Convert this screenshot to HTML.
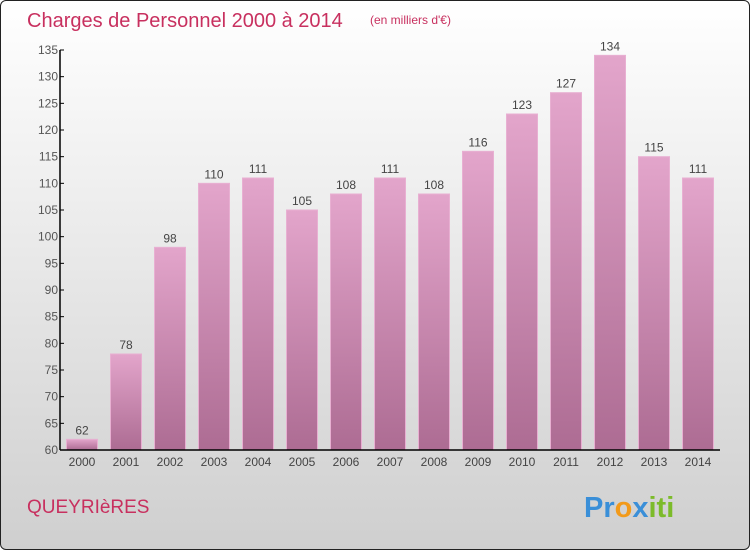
<!DOCTYPE html>
<html><head><meta charset="utf-8"><style>
body{margin:0;width:750px;height:550px;overflow:hidden;font-family:"Liberation Sans",sans-serif}
#bg{position:absolute;left:0;top:0;width:748px;height:548px;border:1px solid #222;border-radius:6px;background:linear-gradient(#ffffff,#cfcfcf)}
</style></head><body>
<div id="bg"></div>
<svg width="750" height="550" style="position:absolute;left:0;top:0">
<defs><linearGradient id="bar" x1="0" y1="0" x2="0" y2="1"><stop offset="0" stop-color="#e3a5cb"/><stop offset="1" stop-color="#ad6c93"/></linearGradient></defs>
<text x="27" y="27" font-size="20" fill="#c8305f">Charges de Personnel 2000 à 2014</text>
<text x="370" y="24" font-size="12" fill="#c8305f">(en milliers d'€)</text>
<text x="27" y="513" font-size="19" fill="#c8305f">QUEYRIèRES</text>
<text x="584" y="517" font-size="29" font-weight="bold"><tspan fill="#3a8fd8">Pr</tspan><tspan fill="#f29a1a">o</tspan><tspan fill="#3a8fd8">x</tspan><tspan fill="#7cbb2a">iti</tspan></text>
<g id="plot"></g>
</svg>
<script>
const years=["2000","2001","2002","2003","2004","2005","2006","2007","2008","2009","2010","2011","2012","2013","2014"];
const values=[62,78,98,110,111,105,108,111,108,116,123,127,134,115,111];
const yTicks=[60,65,70,75,80,85,90,95,100,105,110,115,120,125,130,135];
const ns="http://www.w3.org/2000/svg",g=document.getElementById('plot');
const y=v=>450-(v-60)*400/75, x=i=>82+i*44;
function el(t,a,txt){const e=document.createElementNS(ns,t);for(const k in a)e.setAttribute(k,a[k]);if(txt!=null)e.textContent=txt;g.appendChild(e);return e;}
yTicks.forEach(v=>{
 const t=el('line',{x1:60,x2:64,y1:y(v),y2:y(v),stroke:'#000'});
 
 const l=el('text',{x:58,y:y(v)+4,'font-size':12,fill:'#555','text-anchor':'end'},v);
 
});
values.forEach((v,i)=>{
 const r=el('rect',{x:x(i)-15.5,y:y(v),width:31,height:450-y(v),fill:'url(#bar)',stroke:'#e8b0d2','stroke-width':1});
 
 const t=el('text',{x:x(i),y:y(v)-5,'font-size':12,fill:'#444','text-anchor':'middle'},v);
 
 const l=el('text',{x:x(i),y:466,'font-size':12,fill:'#444','text-anchor':'middle'},years[i]);
 
});
const ya=el('line',{x1:60,x2:60,y1:y(135),y2:450,stroke:'#000','stroke-width':1.5});

const xa=el('line',{x1:60,x2:720,y1:450,y2:450,stroke:'#000','stroke-width':1.5});

</script>
</body></html>
